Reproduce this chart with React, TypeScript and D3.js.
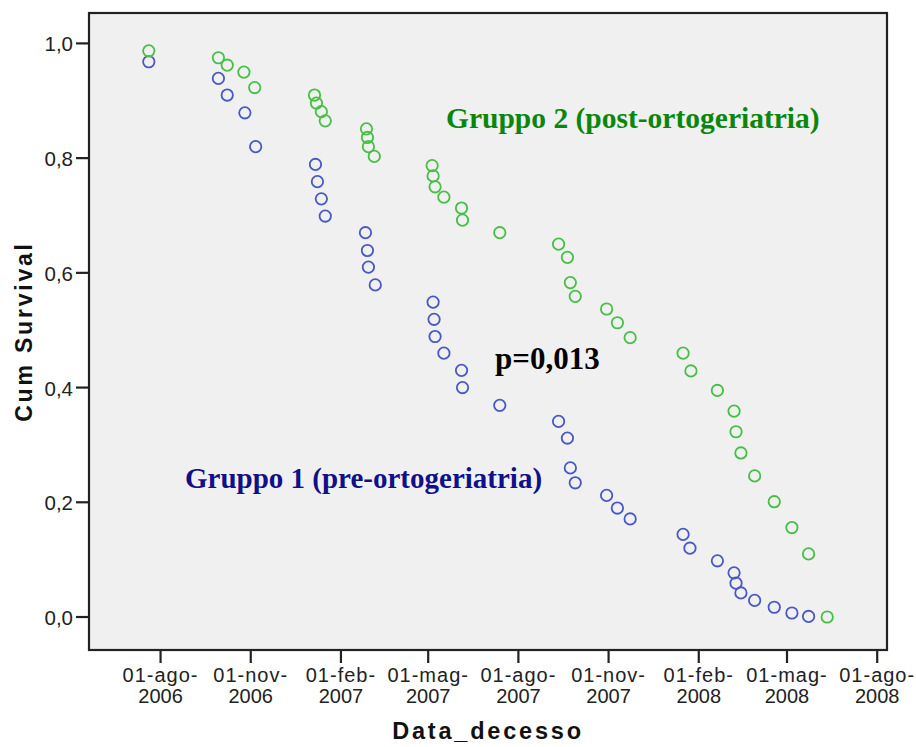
import React from "react";
import * as d3 from "d3";

// Gruppo 1 (pre-ortogeriatria) — blue
const group1Dates = [
  "2006-07-20", "2006-09-29", "2006-10-08", "2006-10-26", "2006-11-06",
  "2007-01-06", "2007-01-08", "2007-01-12", "2007-01-16",
  "2007-02-26", "2007-02-28", "2007-03-01", "2007-03-08",
  "2007-05-06", "2007-05-07", "2007-05-08", "2007-05-17",
  "2007-06-04", "2007-06-05", "2007-07-13",
  "2007-09-11", "2007-09-20", "2007-09-23", "2007-09-28",
  "2007-10-30", "2007-11-10", "2007-11-23",
  "2008-01-16", "2008-01-23", "2008-02-20",
  "2008-03-08", "2008-03-10", "2008-03-15", "2008-03-29",
  "2008-04-18", "2008-05-06", "2008-05-23",
];
const group1Survival = [
  0.968, 0.939, 0.910, 0.879, 0.820,
  0.789, 0.759, 0.729, 0.699,
  0.670, 0.639, 0.610, 0.579,
  0.549, 0.519, 0.489, 0.460,
  0.430, 0.400, 0.369,
  0.341, 0.312, 0.260, 0.234,
  0.212, 0.190, 0.171,
  0.144, 0.120, 0.098,
  0.077, 0.059, 0.042, 0.029,
  0.017, 0.007, 0.001,
];

// Gruppo 2 (post-ortogeriatria) — green
const group2Dates = [
  "2006-07-20", "2006-09-29", "2006-10-08", "2006-10-25", "2006-11-05",
  "2007-01-05", "2007-01-07", "2007-01-12", "2007-01-16",
  "2007-02-27", "2007-02-28", "2007-03-01", "2007-03-07",
  "2007-05-05", "2007-05-06", "2007-05-08", "2007-05-17",
  "2007-06-04", "2007-06-05", "2007-07-13",
  "2007-09-11", "2007-09-20", "2007-09-23", "2007-09-28",
  "2007-10-30", "2007-11-10", "2007-11-23",
  "2008-01-16", "2008-01-24", "2008-02-20",
  "2008-03-08", "2008-03-10", "2008-03-15", "2008-03-29",
  "2008-04-18", "2008-05-06", "2008-05-23", "2008-06-11",
];
const group2Survival = [
  0.987, 0.975, 0.962, 0.950, 0.923,
  0.910, 0.896, 0.881, 0.865,
  0.851, 0.836, 0.820, 0.803,
  0.787, 0.769, 0.750, 0.732,
  0.713, 0.692, 0.670,
  0.650, 0.627, 0.583, 0.559,
  0.537, 0.513, 0.487,
  0.460, 0.429, 0.395,
  0.359, 0.323, 0.286, 0.246,
  0.201, 0.156, 0.110, 0.0,
];

const xTickDates = [
  "2006-08-01", "2006-11-01", "2007-02-01", "2007-05-01", "2007-08-01",
  "2007-11-01", "2008-02-01", "2008-05-01", "2008-08-01",
];
const yTickValues = [0, 0.2, 0.4, 0.6, 0.8, 1.0];
const xDomainDates = ["2006-05-20", "2008-08-11"];
const yDomain = [-0.0575, 1.053];

const itLocale = d3.timeFormatLocale({
  dateTime: "%A %e %B %Y, %X",
  date: "%d/%m/%Y",
  time: "%H:%M:%S",
  periods: ["AM", "PM"],
  days: ["domenica", "lunedì", "martedì", "mercoledì", "giovedì", "venerdì", "sabato"],
  shortDays: ["dom", "lun", "mar", "mer", "gio", "ven", "sab"],
  months: ["gennaio", "febbraio", "marzo", "aprile", "maggio", "giugno", "luglio", "agosto", "settembre", "ottobre", "novembre", "dicembre"],
  shortMonths: ["gen", "feb", "mar", "apr", "mag", "giu", "lug", "ago", "set", "ott", "nov", "dic"],
});
const fmtLine1 = itLocale.format("%d-%b-");
const fmtLine2 = itLocale.format("%Y");
const parse = d3.timeParse("%Y-%m-%d");

const W = 916;
const H = 747;
const left = 89, right = 887, top = 13, bottom = 650;

const BLUE = "#4858c8";
const GREEN = "#44c044";

export default function App() {
  const x = d3.scaleTime()
    .domain(xDomainDates.map((d) => parse(d) as Date))
    .range([left, right]);
  const y = d3.scaleLinear().domain(yDomain).range([bottom, top]);

  const g1 = group1Dates.map((d, i) => ({ date: parse(d) as Date, v: group1Survival[i] }));
  const g2 = group2Dates.map((d, i) => ({ date: parse(d) as Date, v: group2Survival[i] }));

  const sans = "'Liberation Sans', Arial, sans-serif";
  const serif = "'Liberation Serif', 'Times New Roman', serif";

  return (
    <svg
      width={W}
      height={H}
      style={{ position: "absolute", left: 0, top: 0, background: "#ffffff" }}
    >
      <rect x={left} y={top} width={right - left} height={bottom - top} fill="#f0f0f0" />

      {/* points */}
      {g1.map((p, i) => (
        <circle key={"b" + i} cx={x(p.date)} cy={y(p.v)} r={5.7} fill="none" stroke={BLUE} strokeWidth={1.8} />
      ))}
      {g2.map((p, i) => (
        <circle key={"g" + i} cx={x(p.date)} cy={y(p.v)} r={5.7} fill="none" stroke={GREEN} strokeWidth={1.8} />
      ))}

      <rect x={left} y={top} width={right - left} height={bottom - top} fill="none" stroke="#222" strokeWidth={2.2} />

      {/* y axis */}
      {yTickValues.map((v) => (
        <g key={"yt" + v}>
          <line x1={left - 13} x2={left} y1={y(v)} y2={y(v)} stroke="#222" strokeWidth={2.2} />
          <text x={left - 16} y={y(v) + 8} textAnchor="end" fontFamily={sans} fontSize={20.5} fill="#222">
            {d3.format(".1f")(v).replace(".", ",")}
          </text>
        </g>
      ))}

      {/* x axis */}
      {xTickDates.map((s) => {
        const d = parse(s) as Date;
        const xx = x(d);
        return (
          <g key={"xt" + s}>
            <line x1={xx} x2={xx} y1={bottom} y2={bottom + 13} stroke="#222" strokeWidth={2.2} />
            <text x={xx} y={682} textAnchor="middle" fontFamily={sans} fontSize={20} letterSpacing={1} fill="#222">
              {fmtLine1(d)}
            </text>
            <text x={xx} y={703} textAnchor="middle" fontFamily={sans} fontSize={20} fill="#222">
              {fmtLine2(d)}
            </text>
          </g>
        );
      })}

      {/* axis titles */}
      <text
        x={488}
        y={739}
        textAnchor="middle"
        fontFamily={sans}
        fontWeight="bold"
        fontSize={23.5}
        letterSpacing={2.8}
        fill="#111"
      >
        Data_decesso
      </text>
      <text
        transform={`translate(32, ${(top + bottom) / 2}) rotate(-90)`}
        textAnchor="middle"
        fontFamily={sans}
        fontWeight="bold"
        fontSize={23}
        letterSpacing={2.8}
        fill="#111"
      >
        Cum Survival
      </text>

      {/* annotations */}
      <text x={446} y={128} fontFamily={serif} fontWeight="bold" fontSize={29.5} fill="#0a870a">
        Gruppo 2 (post-ortogeriatria)
      </text>
      <text x={185} y={488} fontFamily={serif} fontWeight="bold" fontSize={29} fill="#10108a">
        Gruppo 1 (pre-ortogeriatria)
      </text>
      <text x={495} y={369} fontFamily={serif} fontWeight="bold" fontSize={31} fill="#000">
        p=0,013
      </text>
    </svg>
  );
}
